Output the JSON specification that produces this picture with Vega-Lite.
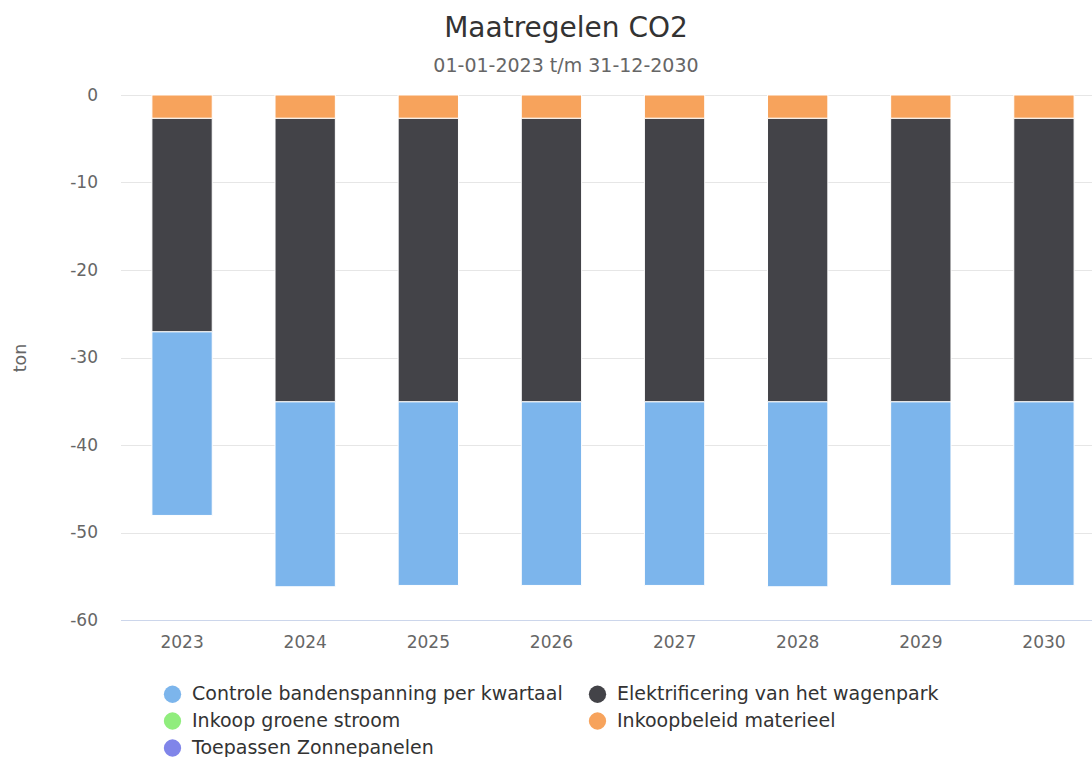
{
  "$schema": "https://vega.github.io/schema/vega-lite/v6.json",
  "autosize": {"type": "none"},
  "width": 985,
  "height": 525,
  "padding": {"left": 120.5, "top": 95, "right": 0, "bottom": 137},
  "background": "#ffffff",
  "title": {
    "text": "Maatregelen CO2",
    "subtitle": "01-01-2023 t/m 31-12-2030",
    "anchor": "middle",
    "frame": "group",
    "dx": -47,
    "offset": 10,
    "font": "DejaVu Sans",
    "fontSize": 28,
    "fontWeight": "normal",
    "color": "#333333",
    "subtitleFont": "DejaVu Sans",
    "subtitleFontSize": 19,
    "subtitleColor": "#666666",
    "subtitlePadding": 14
  },
  "data": {
    "values": [
      {"year": "2023", "series": "Controle bandenspanning per kwartaal", "seriesIndex": 0, "value": -21.0},
      {"year": "2024", "series": "Controle bandenspanning per kwartaal", "seriesIndex": 0, "value": -21.15},
      {"year": "2025", "series": "Controle bandenspanning per kwartaal", "seriesIndex": 0, "value": -21.0},
      {"year": "2026", "series": "Controle bandenspanning per kwartaal", "seriesIndex": 0, "value": -21.0},
      {"year": "2027", "series": "Controle bandenspanning per kwartaal", "seriesIndex": 0, "value": -21.0},
      {"year": "2028", "series": "Controle bandenspanning per kwartaal", "seriesIndex": 0, "value": -21.15},
      {"year": "2029", "series": "Controle bandenspanning per kwartaal", "seriesIndex": 0, "value": -21.0},
      {"year": "2030", "series": "Controle bandenspanning per kwartaal", "seriesIndex": 0, "value": -21.0},
      {"year": "2023", "series": "Elektrificering van het wagenpark", "seriesIndex": 1, "value": -24.4},
      {"year": "2024", "series": "Elektrificering van het wagenpark", "seriesIndex": 1, "value": -32.4},
      {"year": "2025", "series": "Elektrificering van het wagenpark", "seriesIndex": 1, "value": -32.4},
      {"year": "2026", "series": "Elektrificering van het wagenpark", "seriesIndex": 1, "value": -32.4},
      {"year": "2027", "series": "Elektrificering van het wagenpark", "seriesIndex": 1, "value": -32.4},
      {"year": "2028", "series": "Elektrificering van het wagenpark", "seriesIndex": 1, "value": -32.4},
      {"year": "2029", "series": "Elektrificering van het wagenpark", "seriesIndex": 1, "value": -32.4},
      {"year": "2030", "series": "Elektrificering van het wagenpark", "seriesIndex": 1, "value": -32.4},
      {"year": "2023", "series": "Inkoopbeleid materieel", "seriesIndex": 3, "value": -2.65},
      {"year": "2024", "series": "Inkoopbeleid materieel", "seriesIndex": 3, "value": -2.65},
      {"year": "2025", "series": "Inkoopbeleid materieel", "seriesIndex": 3, "value": -2.65},
      {"year": "2026", "series": "Inkoopbeleid materieel", "seriesIndex": 3, "value": -2.65},
      {"year": "2027", "series": "Inkoopbeleid materieel", "seriesIndex": 3, "value": -2.65},
      {"year": "2028", "series": "Inkoopbeleid materieel", "seriesIndex": 3, "value": -2.65},
      {"year": "2029", "series": "Inkoopbeleid materieel", "seriesIndex": 3, "value": -2.65},
      {"year": "2030", "series": "Inkoopbeleid materieel", "seriesIndex": 3, "value": -2.65}
    ]
  },
  "mark": {"type": "bar", "stroke": "#ffffff", "strokeWidth": 1},
  "encoding": {
    "x": {
      "field": "year",
      "type": "ordinal",
      "scale": {"paddingInner": 0.51, "paddingOuter": 0.255},
      "axis": {
        "title": null,
        "labelAngle": 0,
        "ticks": false,
        "grid": false,
        "domain": true,
        "domainColor": "#ccd6eb",
        "domainWidth": 1,
        "labelFont": "DejaVu Sans",
        "labelFontSize": 17,
        "labelColor": "#666666",
        "labelBaseline": "middle",
        "labelPadding": 22
      }
    },
    "y": {
      "field": "value",
      "type": "quantitative",
      "stack": "zero",
      "scale": {"domain": [-60, 0], "nice": false},
      "axis": {
        "title": "ton",
        "values": [-60, -50, -40, -30, -20, -10, 0],
        "labelExpr": "toString(datum.value)",
        "domain": false,
        "ticks": false,
        "grid": true,
        "gridColor": "#e6e6e6",
        "gridWidth": 1,
        "labelFont": "DejaVu Sans",
        "labelFontSize": 17,
        "labelColor": "#666666",
        "labelPadding": 23,
        "labelBaseline": "middle",
        "titleFont": "DejaVu Sans",
        "titleFontSize": 17.5,
        "titleFontWeight": "normal",
        "titleColor": "#666666",
        "titleAngle": -90,
        "titleAlign": "center",
        "titleBaseline": "middle",
        "titleX": -100.5,
        "titleY": 262.5
      }
    },
    "color": {
      "field": "series",
      "type": "nominal",
      "scale": {
        "domain": [
          "Controle bandenspanning per kwartaal",
          "Elektrificering van het wagenpark",
          "Inkoop groene stroom",
          "Inkoopbeleid materieel",
          "Toepassen Zonnepanelen"
        ],
        "range": ["#7cb5ec", "#434348", "#90ed7d", "#f7a35c", "#8085e9"]
      },
      "legend": {
        "title": null,
        "orient": "none",
        "direction": "horizontal",
        "legendX": 42.5,
        "legendY": 589.5,
        "columns": 2,
        "padding": 0,
        "columnPadding": 25,
        "rowPadding": 7,
        "symbolType": "circle",
        "symbolSize": 300,
        "symbolStrokeWidth": 0,
        "labelFont": "DejaVu Sans",
        "labelFontSize": 19,
        "labelColor": "#333333",
        "labelOffset": 10,
        "labelLimit": 600
      }
    },
    "order": {"field": "seriesIndex", "type": "quantitative", "sort": "descending"}
  },
  "config": {
    "view": {"stroke": null},
    "axis": {"gridColor": "#e6e6e6"}
  }
}
